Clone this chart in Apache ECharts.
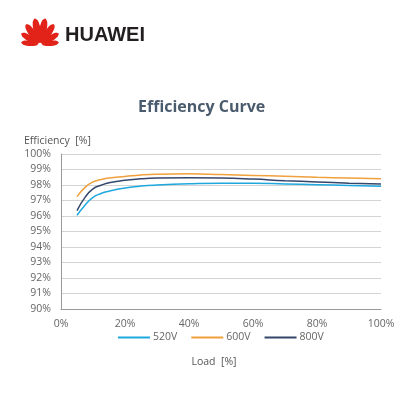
<!DOCTYPE html>
<html lang="en">
<head>
    <meta charset="UTF-8">
    <title>Efficiency Curve</title>
    <script type="text/javascript" src="https://cdn.jsdelivr.net/npm/echarts@6/dist/echarts.min.js"></script>
    <style>
        html, body { margin: 0; width: 100%; height: 100%; background: #fff; }
        #chart { width: 420px; height: 420px; }
    </style>
</head>
<body>
<div id="chart"></div>
<script>
    // load points (%)
    var loadPct = [5, 7.5, 10, 12.5, 15, 20, 25, 30, 40, 50, 60, 70, 80, 90, 100];
    // efficiency (%) per input voltage
    var eff520 = [96.05, 96.7, 97.2, 97.45, 97.6, 97.8, 97.93, 98.0, 98.08, 98.12, 98.12, 98.07, 98.02, 97.97, 97.92];
    var eff600 = [97.25, 97.85, 98.2, 98.35, 98.45, 98.55, 98.65, 98.7, 98.72, 98.68, 98.62, 98.56, 98.5, 98.45, 98.4];
    var eff800 = [96.35, 97.2, 97.75, 97.98, 98.15, 98.3, 98.4, 98.45, 98.47, 98.45, 98.38, 98.28, 98.2, 98.12, 98.06];
    var seriesNames = ['520V', '600V', '800V'];
    var seriesColors = ['#1ea8de', '#f0a03c', '#34466a'];

    function pairs(ys) {
        return loadPct.map(function (x, i) { return [x, ys[i]]; });
    }

    // petals of the logo: angle from vertical (deg), length
    var petals = [[-82, 19], [-58, 22], [-34, 25], [-11, 27], [11, 27], [34, 25], [58, 22], [82, 19]];
    var logo = petals.map(function (p) {
        var L = p[1], w = L * 0.13;
        return {
            type: 'polygon',
            x: 40, y: 45,
            rotation: -p[0] * Math.PI / 180,
            shape: {
                points: [[0, -2], [-w, -L * 0.5], [-w * 0.8, -L * 0.88], [0, -L], [w * 0.8, -L * 0.88], [w, -L * 0.5]],
                smooth: 0.3
            },
            style: { fill: '#e2231a' }
        };
    });
    logo.push({
        type: 'text', left: 65, top: 25,
        style: { text: 'HUAWEI', fill: '#231f20', font: 'bold 20px "Liberation Sans", Arial, sans-serif' }
    });

    var chart = echarts.init(document.getElementById('chart'));
    var option = {
        animation: false,
        graphic: logo,
        title: {
            text: 'Efficiency Curve',
            left: 133,
            top: 94,
            textStyle: { color: '#4a5b6d', fontSize: 16, fontWeight: 'bold', fontFamily: 'Open Sans' }
        },
        legend: {
            data: seriesNames,
            top: 327,
            left: 113,
            icon: 'rect',
            itemWidth: 32,
            itemHeight: 2,
            itemGap: 14,
            textStyle: { color: '#666', fontSize: 10.5, fontFamily: 'Open Sans', padding: [0, 0, 0, -2] }
        },
        grid: { left: 61, right: 39, top: 154, bottom: 111 },
        xAxis: {
            type: 'value',
            min: 0, max: 100, interval: 20,
            name: 'Load  [%]',
            nameLocation: 'middle',
            nameGap: 48,
            nameTextStyle: { color: '#555', fontSize: 10.5, fontFamily: 'Open Sans', padding: [0, 14, 0, 0] },
            axisLine: { show: true, lineStyle: { color: '#999' } },
            axisTick: { show: false },
            splitLine: { show: false },
            axisLabel: { formatter: '{value}%', color: '#666', fontSize: 10.5, fontFamily: 'Open Sans', margin: 10 }
        },
        yAxis: {
            type: 'value',
            min: 90, max: 100, interval: 1,
            name: 'Efficiency  [%]',
            nameGap: 7,
            nameTextStyle: { color: '#555', fontSize: 10.5, fontFamily: 'Open Sans', align: 'left', padding: [0, 0, 0, -37] },
            axisLine: { show: true, lineStyle: { color: '#999' } },
            axisTick: { show: false },
            splitLine: { lineStyle: { color: '#d4d4d4' } },
            axisLabel: { formatter: '{value}%', color: '#666', fontSize: 10.5, fontFamily: 'Open Sans', margin: 10 }
        },
        series: [eff520, eff600, eff800].map(function (ys, i) {
            return {
                name: seriesNames[i],
                type: 'line',
                smooth: true,
                showSymbol: false,
                data: pairs(ys),
                lineStyle: { width: 1.5, color: seriesColors[i] },
                itemStyle: { color: seriesColors[i] }
            };
        })
    };
    chart.setOption(option);
</script>
</body>
</html>
